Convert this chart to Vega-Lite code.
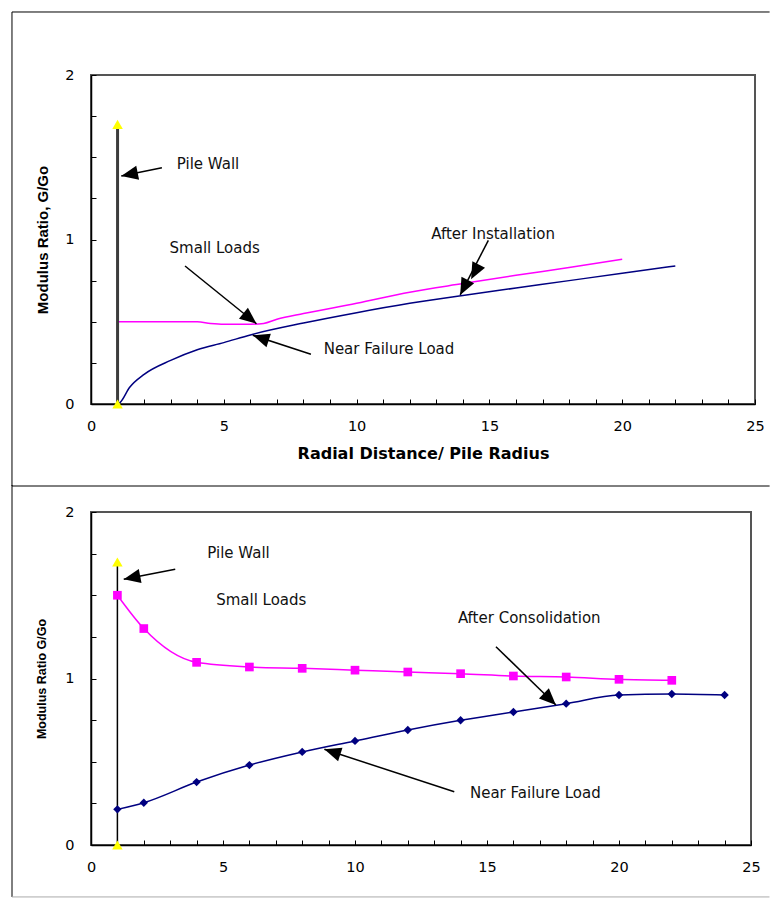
{
  "$schema": "https://vega.github.io/schema/vega-lite/v6.json",
  "padding": {"left": 10, "top": 10, "right": 0, "bottom": 0},
  "spacing": -5,
  "background": "white",
  "config": {
    "view": {"stroke": "#555555", "strokeWidth": 2},
    "axis": {"grid": false, "domainColor": "black", "domainWidth": 1.5, "tickColor": "black", "tickWidth": 1, "tickSize": -5, "labelFont": "DejaVu Sans", "labelFontSize": 14.5, "labelColor": "black", "labelFlush": false, "labelOverlap": false, "titleColor": "black"},
    "text": {"font": "DejaVu Sans", "fontSize": 15, "color": "#111111"}
  },
  "datasets": {
    "one": [{}],
    "top_small": [
      {"x": 1, "y": 0.5}, {"x": 2, "y": 0.5}, {"x": 3, "y": 0.5}, {"x": 4, "y": 0.5},
      {"x": 4.5, "y": 0.49}, {"x": 5, "y": 0.485}, {"x": 6, "y": 0.485}, {"x": 6.5, "y": 0.49},
      {"x": 7, "y": 0.515}, {"x": 8, "y": 0.55}, {"x": 10, "y": 0.612}, {"x": 12, "y": 0.68},
      {"x": 14, "y": 0.732}, {"x": 16, "y": 0.782}, {"x": 18, "y": 0.83}, {"x": 20, "y": 0.88}
    ],
    "top_fail": [
      {"x": 1, "y": 0}, {"x": 1.1, "y": 0.01}, {"x": 1.45, "y": 0.1}, {"x": 2, "y": 0.18},
      {"x": 3, "y": 0.265}, {"x": 4, "y": 0.33}, {"x": 5, "y": 0.373}, {"x": 6, "y": 0.42},
      {"x": 8, "y": 0.492}, {"x": 10, "y": 0.555}, {"x": 12, "y": 0.612}, {"x": 14, "y": 0.66},
      {"x": 16, "y": 0.705}, {"x": 18, "y": 0.75}, {"x": 20, "y": 0.795}, {"x": 22, "y": 0.839}
    ],
    "wall_ends": [{"x": 1, "y": 0}, {"x": 1, "y": 1.7}],
    "top_arrow_lines": [
      {"x": 2.67, "y": 1.436, "x2": 1.14, "y2": 1.386},
      {"x": 3.54, "y": 0.839, "x2": 6.23, "y2": 0.488},
      {"x": 14.96, "y": 0.995, "x2": 13.9, "y2": 0.663},
      {"x": 8.28, "y": 0.302, "x2": 6.09, "y2": 0.418}
    ],
    "top_arrow_heads": [
      {"x": 1.14, "y": 1.386, "angle": 258.5},
      {"x": 6.23, "y": 0.488, "angle": 128.9},
      {"x": 14.31, "y": 0.758, "angle": 207.1},
      {"x": 13.9, "y": 0.663, "angle": 207.1},
      {"x": 6.09, "y": 0.418, "angle": 288}
    ],
    "top_labels": [
      {"x": 4.405, "y": 1.459, "label": "Pile Wall"},
      {"x": 4.657, "y": 0.948, "label": "Small Loads"},
      {"x": 15.14, "y": 1.032, "label": "After Installation"},
      {"x": 11.22, "y": 0.336, "label": "Near Failure Load"}
    ],
    "bot_small": [
      {"x": 1, "y": 1.5}, {"x": 2, "y": 1.3}, {"x": 4, "y": 1.097}, {"x": 6, "y": 1.069},
      {"x": 8, "y": 1.061}, {"x": 10, "y": 1.05}, {"x": 12, "y": 1.039}, {"x": 14, "y": 1.029},
      {"x": 16, "y": 1.015}, {"x": 18, "y": 1.009}, {"x": 20, "y": 0.995}, {"x": 22, "y": 0.989}
    ],
    "bot_fail": [
      {"x": 1, "y": 0.214}, {"x": 2, "y": 0.254}, {"x": 4, "y": 0.378}, {"x": 6, "y": 0.48},
      {"x": 8, "y": 0.559}, {"x": 10, "y": 0.625}, {"x": 12, "y": 0.691}, {"x": 14, "y": 0.749},
      {"x": 16, "y": 0.799}, {"x": 18, "y": 0.849}, {"x": 20, "y": 0.901}, {"x": 22, "y": 0.907},
      {"x": 24, "y": 0.901}
    ],
    "bot_arrow_lines": [
      {"x": 3.19, "y": 1.656, "x2": 1.24, "y2": 1.596},
      {"x": 15.34, "y": 1.191, "x2": 17.61, "y2": 0.841},
      {"x": 13.76, "y": 0.32, "x2": 8.84, "y2": 0.575}
    ],
    "bot_arrow_heads": [
      {"x": 1.24, "y": 1.596, "angle": 259},
      {"x": 17.61, "y": 0.841, "angle": 134.2},
      {"x": 8.84, "y": 0.575, "angle": 288}
    ],
    "bot_labels": [
      {"x": 5.587, "y": 1.753, "label": "Pile Wall"},
      {"x": 6.45, "y": 1.471, "label": "Small Loads"},
      {"x": 16.6, "y": 1.362, "label": "After Consolidation"},
      {"x": 16.83, "y": 0.31, "label": "Near Failure Load"}
    ]
  },
  "vconcat": [
    {
      "width": 664,
      "height": 329,
      "layer": [
        {"data": {"name": "top_small"},
         "mark": {"type": "line", "color": "#FF00FF", "strokeWidth": 1.5, "interpolate": "monotone"},
         "encoding": {
          "x": {"field": "x", "type": "quantitative", "scale": {"domain": [0, 25], "nice": false, "zero": false},
            "axis": {"values": [0,1,2,3,4,5,6,7,8,9,10,11,12,13,14,15,16,17,18,19,20,21,22,23,24,25], "tickCount": 40,
              "labelExpr": "datum.value % 5 === 0 ? format(datum.value, 'd') : ''", "labelPadding": 20, "labelOverlap": false,
              "title": "Radial Distance/ Pile Radius", "titleFont": "DejaVu Sans", "titleFontSize": 16, "titleFontWeight": "bold", "titlePadding": 13}},
          "y": {"field": "y", "type": "quantitative", "scale": {"domain": [0, 2], "nice": false, "zero": false},
            "axis": {"values": [0,0.25,0.5,0.75,1,1.25,1.5,1.75,2], "tickCount": 20,
              "labelExpr": "datum.value % 1 === 0 ? format(datum.value, 'd') : ''", "labelPadding": 22, "labelOverlap": false,
              "title": "Modulus Ratio, G/Go", "titleFont": "Liberation Sans", "titleFontSize": 15, "titleFontWeight": "bold", "titlePadding": 14}}
         }},
        {"data": {"name": "one"}, "mark": {"type": "rule", "color": "black", "strokeWidth": 1},
         "encoding": {"x": {"datum": -2.975, "type": "quantitative"}, "x2": {"datum": 25.55}, "y": {"datum": 2.383, "type": "quantitative"}}},
        {"data": {"name": "one"}, "mark": {"type": "rule", "color": "black", "strokeWidth": 1},
         "encoding": {"x": {"datum": -2.975, "type": "quantitative"}, "x2": {"datum": 25.55}, "y": {"datum": -0.4985, "type": "quantitative"}}},
        {"data": {"name": "one"}, "mark": {"type": "rule", "color": "black", "strokeWidth": 1},
         "encoding": {"x": {"datum": -2.975, "type": "quantitative"}, "y": {"datum": 2.383, "type": "quantitative"}, "y2": {"datum": -0.4985}}},
        {"data": {"name": "one"}, "mark": {"type": "rule", "color": "#3c3c3c", "strokeWidth": 3},
         "encoding": {"x": {"datum": 1, "type": "quantitative"}, "y": {"datum": 0, "type": "quantitative"}, "y2": {"datum": 1.7}}},
        {"data": {"name": "top_fail"},
         "mark": {"type": "line", "color": "#000080", "strokeWidth": 1.5, "interpolate": "monotone"},
         "encoding": {"x": {"field": "x", "type": "quantitative"}, "y": {"field": "y", "type": "quantitative"}}},
        {"data": {"name": "wall_ends"},
         "mark": {"type": "point", "shape": "triangle-up", "filled": true, "color": "#FFFF00", "opacity": 1, "size": 110},
         "encoding": {"x": {"field": "x", "type": "quantitative"}, "y": {"field": "y", "type": "quantitative"}}},
        {"data": {"name": "top_arrow_lines"},
         "mark": {"type": "rule", "color": "black", "strokeWidth": 1.5},
         "encoding": {"x": {"field": "x", "type": "quantitative"}, "y": {"field": "y", "type": "quantitative"}, "x2": {"field": "x2"}, "y2": {"field": "y2"}}},
        {"data": {"name": "top_arrow_heads"},
         "mark": {"type": "point", "shape": "M0,0L0.85,2L-0.85,2Z", "filled": true, "color": "black", "opacity": 1, "size": 280},
         "encoding": {"x": {"field": "x", "type": "quantitative"}, "y": {"field": "y", "type": "quantitative"}, "angle": {"field": "angle", "type": "quantitative", "scale": null}}},
        {"data": {"name": "top_labels"},
         "mark": {"type": "text", "align": "center", "baseline": "middle"},
         "encoding": {"x": {"field": "x", "type": "quantitative"}, "y": {"field": "y", "type": "quantitative"}, "text": {"field": "label"}}}
      ]
    },
    {
      "width": 660,
      "height": 333,
      "layer": [
        {"data": {"name": "bot_small"},
         "mark": {"type": "line", "color": "#FF00FF", "strokeWidth": 1.5, "interpolate": "monotone"},
         "encoding": {
          "x": {"field": "x", "type": "quantitative", "scale": {"domain": [0, 25], "nice": false, "zero": false},
            "axis": {"values": [0,1,2,3,4,5,6,7,8,9,10,11,12,13,14,15,16,17,18,19,20,21,22,23,24,25], "tickCount": 40,
              "labelExpr": "datum.value % 5 === 0 ? format(datum.value, 'd') : ''", "labelPadding": 20, "labelOverlap": false, "title": null}},
          "y": {"field": "y", "type": "quantitative", "scale": {"domain": [0, 2], "nice": false, "zero": false},
            "axis": {"values": [0,0.25,0.5,0.75,1,1.25,1.5,1.75,2], "tickCount": 20,
              "labelExpr": "datum.value % 1 === 0 ? format(datum.value, 'd') : ''", "labelPadding": 22, "labelOverlap": false,
              "title": "Modulus Ratio G/Go", "titleFont": "Liberation Sans", "titleFontSize": 12.5, "titleFontWeight": "bold", "titlePadding": 16}}
         }},
        {"data": {"name": "one"}, "mark": {"type": "rule", "color": "black", "strokeWidth": 1},
         "encoding": {"x": {"datum": -2.992, "type": "quantitative"}, "y": {"datum": 2.162, "type": "quantitative"}, "y2": {"datum": -0.312}}},
        {"data": {"name": "one"}, "mark": {"type": "rule", "color": "#aaaaaa", "strokeWidth": 1},
         "encoding": {"x": {"datum": -2.992, "type": "quantitative"}, "x2": {"datum": 25.7}, "y": {"datum": -0.312, "type": "quantitative"}}},
        {"data": {"name": "one"}, "mark": {"type": "rule", "color": "black", "strokeWidth": 1.5},
         "encoding": {"x": {"datum": 1, "type": "quantitative"}, "y": {"datum": 0, "type": "quantitative"}, "y2": {"datum": 1.7}}},
        {"data": {"name": "bot_small"},
         "mark": {"type": "point", "shape": "square", "filled": true, "color": "#FF00FF", "opacity": 1, "size": 75},
         "encoding": {"x": {"field": "x", "type": "quantitative"}, "y": {"field": "y", "type": "quantitative"}}},
        {"data": {"name": "bot_fail"},
         "mark": {"type": "line", "color": "#000080", "strokeWidth": 1.5, "interpolate": "monotone"},
         "encoding": {"x": {"field": "x", "type": "quantitative"}, "y": {"field": "y", "type": "quantitative"}}},
        {"data": {"name": "bot_fail"},
         "mark": {"type": "point", "shape": "diamond", "filled": true, "color": "#000080", "opacity": 1, "size": 70},
         "encoding": {"x": {"field": "x", "type": "quantitative"}, "y": {"field": "y", "type": "quantitative"}}},
        {"data": {"name": "wall_ends"},
         "mark": {"type": "point", "shape": "triangle-up", "filled": true, "color": "#FFFF00", "opacity": 1, "size": 110},
         "encoding": {"x": {"field": "x", "type": "quantitative"}, "y": {"field": "y", "type": "quantitative"}}},
        {"data": {"name": "bot_arrow_lines"},
         "mark": {"type": "rule", "color": "black", "strokeWidth": 1.5},
         "encoding": {"x": {"field": "x", "type": "quantitative"}, "y": {"field": "y", "type": "quantitative"}, "x2": {"field": "x2"}, "y2": {"field": "y2"}}},
        {"data": {"name": "bot_arrow_heads"},
         "mark": {"type": "point", "shape": "M0,0L0.85,2L-0.85,2Z", "filled": true, "color": "black", "opacity": 1, "size": 280},
         "encoding": {"x": {"field": "x", "type": "quantitative"}, "y": {"field": "y", "type": "quantitative"}, "angle": {"field": "angle", "type": "quantitative", "scale": null}}},
        {"data": {"name": "bot_labels"},
         "mark": {"type": "text", "align": "center", "baseline": "middle"},
         "encoding": {"x": {"field": "x", "type": "quantitative"}, "y": {"field": "y", "type": "quantitative"}, "text": {"field": "label"}}}
      ]
    }
  ]
}
